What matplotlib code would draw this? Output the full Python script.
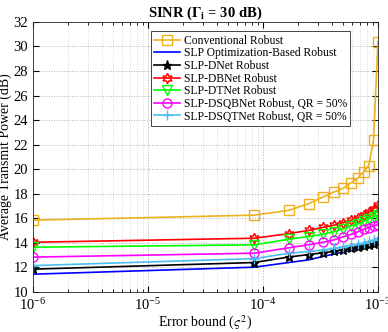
import matplotlib
matplotlib.use("Agg")
import matplotlib.pyplot as plt
import numpy as np
from matplotlib.ticker import LogLocator, FixedLocator

plt.rcParams['font.family'] = ['Liberation Serif', 'DejaVu Serif']
plt.rcParams['mathtext.fontset'] = 'stix'

x = [1e-6, 8.42e-5, 1.675e-4, 2.508e-4, 3.34e-4, 4.17e-4, 5.0e-4,
     5.84e-4, 6.67e-4, 7.5e-4, 8.34e-4, 9.17e-4, 1e-3]

conventional = [15.85, 16.26, 16.65, 17.2, 17.75, 18.15, 18.45, 18.9, 19.25, 19.8, 20.3, 22.4, 30.4]
slp_opt = [11.45, 12.02, 12.4, 12.62, 12.9, 13.1, 13.25, 13.4, 13.5, 13.62, 13.75, 13.85, 14.0]
dnet = [11.86, 12.4, 12.85, 13.05, 13.2, 13.3, 13.45, 13.55, 13.65, 13.75, 13.85, 13.95, 14.1]
dbnet = [14.05, 14.38, 14.75, 15.02, 15.27, 15.45, 15.65, 15.85, 16.05, 16.3, 16.55, 16.8, 17.1]
dtnet = [13.65, 13.84, 14.3, 14.52, 14.7, 14.92, 15.15, 15.4, 15.55, 15.75, 15.97, 16.1, 16.3]
dsqb = [12.84, 13.16, 13.6, 13.85, 14.05, 14.25, 14.5, 14.7, 14.9, 15.1, 15.25, 15.4, 15.48]
dsqt = [12.15, 12.72, 13.15, 13.3, 13.43, 13.55, 13.7, 13.8, 13.9, 14.0, 14.12, 14.25, 14.4]

labels = ['Conventional Robust', 'SLP Optimization-Based Robust', 'SLP-DNet Robust',
          'SLP-DBNet Robust', 'SLP-DTNet Robust', 'SLP-DSQBNet Robust, QR = 50%',
          'SLP-DSQTNet Robust, QR = 50%']
yticks = [10, 12, 14, 16, 18, 20, 22, 24, 26, 28, 30, 32]

fig = plt.figure(figsize=(3.88, 3.32), dpi=100)
ax = fig.add_axes([0.085, 0.1205, 0.889, 0.8135])

lw = 1.2
ms = 6.5
ax.plot(x, conventional, color='#EDB120', marker='s', mfc='none', ms=ms, lw=lw, label=labels[0])
ax.plot(x, slp_opt, color='#0000FF', lw=lw, label=labels[1])
ax.plot(x, dnet, color='black', marker='*', ms=ms, lw=lw, label=labels[2])
ax.plot(x, dbnet, color='#FF0000', marker=(6, 1, 0), mfc='none', ms=ms + 1, lw=lw, label=labels[3])
ax.plot(x, dtnet, color='#00FF00', marker='v', mfc='none', ms=ms, lw=lw, label=labels[4])
ax.plot(x, dsqb, color='#FF00FF', marker='o', mfc='none', ms=ms, lw=lw, label=labels[5])
ax.plot(x, dsqt, color='#4DBEEE', marker='+', ms=ms + 1, lw=lw, label=labels[6])

ax.set_xscale('log')
ax.set_xlim(1e-6, 1e-3)
ax.set_ylim(10, 32)
ax.yaxis.set_major_locator(FixedLocator(yticks))
ax.xaxis.set_major_locator(LogLocator(base=10, numticks=10))
ax.xaxis.set_minor_locator(LogLocator(base=10, subs=np.arange(2, 10), numticks=10))

ax.grid(which='major', linestyle=':', color='#b0b0b0', lw=0.7)
ax.grid(which='minor', axis='x', linestyle=':', color='#d0d0d0', lw=0.6)
ax.tick_params(which='both', direction='in', top=True, right=True, labelsize=10.5)
ax.tick_params(which='major', length=4)
ax.tick_params(which='minor', length=2)
ax.tick_params(axis='x', which='major', pad=4)
for s in ax.spines.values():
    s.set_linewidth(0.6)
    s.set_color('#262626')

ax.set_title(r'SINR ($\mathbf{\Gamma_i}$ = 30 dB)', fontsize=10.5, fontweight='bold', pad=4)
ax.set_xlabel(r'Error bound ($\varsigma^2$)', fontsize=10, labelpad=0)
ax.set_ylabel('Average Transmit Power (dB)', fontsize=10, labelpad=1)

leg = ax.legend(loc='upper right', bbox_to_anchor=(0.92, 0.965), fontsize=8.4,
                frameon=True, fancybox=False, edgecolor='#262626', framealpha=1,
                handlelength=2.2, handletextpad=0.3, labelspacing=0.05,
                borderpad=0.3, borderaxespad=0.0)
leg.get_frame().set_linewidth(0.6)

fig.savefig('out.png', dpi=100)
